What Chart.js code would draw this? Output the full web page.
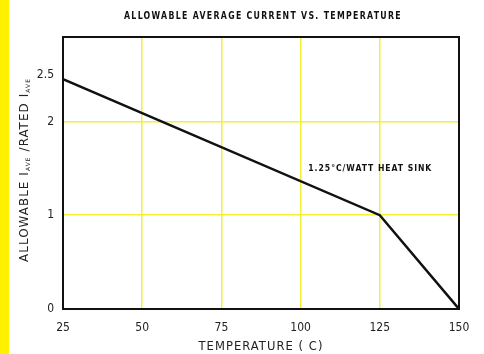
<!DOCTYPE html>
<html>
<head>
<meta charset="utf-8">
<script src="https://cdn.jsdelivr.net/npm/chart.js@4"></script>
<style>
  html, body { margin: 0; padding: 0; background: #fff; }
  #wrap { position: relative; width: 484px; height: 354px; }
  #strip { position: absolute; left: 0; top: 0; width: 9px; height: 354px; background: #fff000; }
  canvas { position: absolute; left: 0; top: 0; }
</style>
</head>
<body>
<div id="wrap">
  <canvas id="myChart" width="484" height="354"></canvas>
  <div id="strip"></div>
</div>
<script>
  // data
  var temps = [25, 125, 150];
  var ratio = [2.45, 1, 0];
  var xTicks = [25, 50, 75, 100, 125, 150];
  var yTicks = [0, 1, 2, 2.5];
  var gridYellow = '#f3f132';

  var tickFont = { family: 'DejaVu Sans Condensed', size: 12 };

  // draws text stretched to a given width
  function fitText(ctx, txt, cx, cy, w) {
    var m = ctx.measureText(txt).width;
    ctx.save();
    ctx.translate(cx, cy);
    ctx.scale(w / m, 1);
    ctx.fillText(txt, 0, 0);
    ctx.restore();
  }

  var textPlugin = {
    id: 'texts',
    afterDraw: function (chart) {
      var ctx = chart.ctx, a = chart.chartArea;
      var xs = chart.scales.x, ys = chart.scales.y;
      ctx.save();
      // frame
      ctx.strokeStyle = '#111';
      ctx.lineWidth = 2;
      ctx.strokeRect(a.left, a.top, a.right - a.left, a.bottom - a.top);

      ctx.fillStyle = '#111';
      ctx.textBaseline = 'middle';
      ctx.textAlign = 'center';
      // title
      ctx.font = 'bold 10px "DejaVu Sans Condensed"';
      ctx.letterSpacing = '1.5px';
      fitText(ctx, 'ALLOWABLE AVERAGE CURRENT VS. TEMPERATURE', 263, 16, 278);

      // note on the curve
      ctx.font = 'bold 9px "DejaVu Sans Condensed"';
      ctx.letterSpacing = '1px';
      fitText(ctx, '1.25\u00b0C/WATT HEAT SINK', xs.getPixelForValue(122), ys.getPixelForValue(1.5), 124);

      // x title
      ctx.font = '12px "DejaVu Sans Condensed"';
      ctx.letterSpacing = '1px';
      ctx.fillStyle = '#222';
      fitText(ctx, 'TEMPERATURE ( C)', 261, 347, 125);

      // y title with subscripts
      ctx.letterSpacing = '1px';
      ctx.translate(25, 170);
      ctx.rotate(-Math.PI / 2);
      var parts = [['ALLOWABLE I', 12, 0], ['AVE', 6, 3], [' /RATED I', 12, 0], ['AVE', 6, 3]];
      var total = 0;
      parts.forEach(function (p) {
        ctx.font = p[1] + 'px "DejaVu Sans Condensed"';
        total += ctx.measureText(p[0]).width;
      });
      ctx.scale(184 / total, 1);
      var pos = -total / 2;
      ctx.textAlign = 'left';
      parts.forEach(function (p) {
        ctx.font = p[1] + 'px "DejaVu Sans Condensed"';
        ctx.fillText(p[0], pos, p[2]);
        pos += ctx.measureText(p[0]).width;
      });
      ctx.restore();
    }
  };

  var ctx = document.getElementById('myChart').getContext('2d');
  var myChart = new Chart(ctx, {
    type: 'line',
    data: {
      datasets: [{
        data: temps.map(function (t, i) { return { x: t, y: ratio[i] }; }),
        borderColor: '#111',
        borderWidth: 2.5,
        pointRadius: 0,
        tension: 0
      }]
    },
    options: {
      responsive: false,
      animation: false,
      layout: { padding: { top: 37, right: 25, left: 0, bottom: 0 } },
      plugins: { legend: { display: false }, title: { display: false }, tooltip: { enabled: false } },
      scales: {
        x: {
          type: 'linear',
          min: 25, max: 150,
          afterBuildTicks: function (s) { s.ticks = xTicks.map(function (v) { return { value: v }; }); },
          afterFit: function (s) { s.height = 45; },
          grid: {
            color: function (c) { return (c.tick && (c.tick.value === 25 || c.tick.value === 150)) ? 'rgba(0,0,0,0)' : gridYellow; },
            lineWidth: 1.5,
            drawTicks: false
          },
          border: { display: false },
          ticks: { color: '#222', font: tickFont, padding: 12, maxRotation: 0 }
        },
        y: {
          min: 0, max: 2.9,
          afterBuildTicks: function (s) { s.ticks = yTicks.map(function (v) { return { value: v }; }); },
          afterFit: function (s) { s.width = 63; },
          grid: {
            color: function (c) { return (c.tick && (c.tick.value === 1 || c.tick.value === 2)) ? gridYellow : 'rgba(0,0,0,0)'; },
            lineWidth: 1.5,
            drawTicks: false
          },
          border: { display: false },
          ticks: { color: '#222', font: tickFont, padding: 9 }
        }
      }
    },
    plugins: [textPlugin]
  });
</script>
</body>
</html>
